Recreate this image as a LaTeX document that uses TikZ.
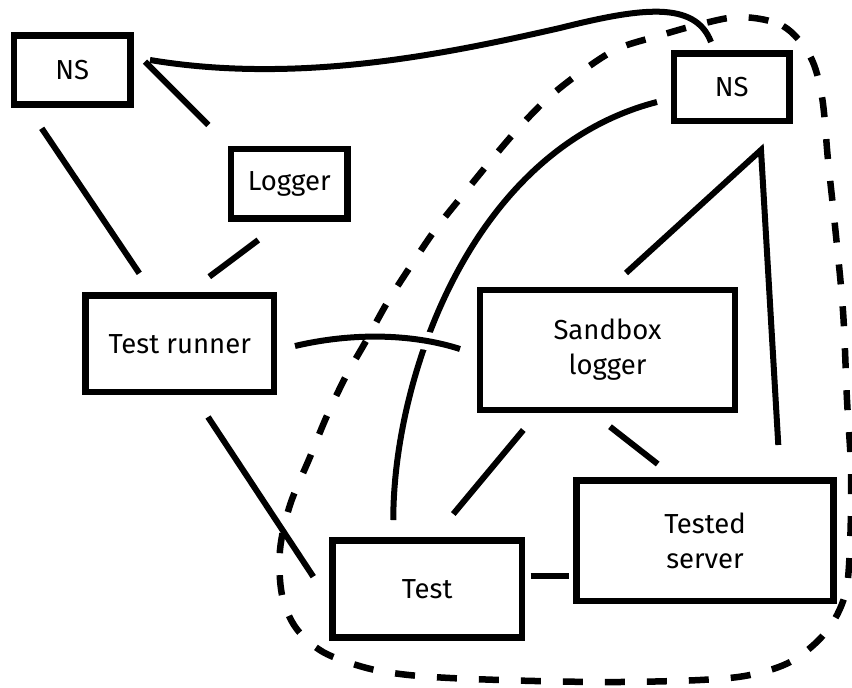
\documentclass[tikz,border=0pt]{standalone}
\usepackage{fontspec}
\IfFontExistsTF{Fira Sans Book}{\setmainfont{Fira Sans Book}}{\setmainfont{Fira Sans}}
\begin{document}
\begin{tikzpicture}[x=1pt,y=-1pt,
  box/.style={draw, line width=6.5pt, rectangle, inner sep=0pt, align=center,
    font=\fontsize{27.5}{35}\selectfont},
  conn/.style={line width=6pt},
  halo/.style={preaction={draw=white, line width=18pt}},
  boundary/.style={line width=6.5pt, dash pattern=on 20pt off 22pt}]
\useasboundingbox (0,0) rectangle (852,688);
\fill[white] (0,0) rectangle (852,688);

% nodes
\node[box, minimum width=116.5pt, minimum height=69pt] (nsl) at (72.2,70) {NS};
\node[box, minimum width=116.5pt, minimum height=69.2pt] (logger) at (289.2,183.8) {Logger};
\node[box, minimum width=188.5pt, minimum height=96.2pt] (runner) at (179.8,343.7) {Test runner};
\node[box, minimum width=115.2pt, minimum height=67.5pt] (nsr) at (731.8,87) {NS};
\node[box, minimum width=255pt, minimum height=120pt] (sandbox) at (607.5,350) {Sandbox\\logger};
\node[box, minimum width=189.2pt, minimum height=96.9pt] (test) at (427.2,589) {Test};
\node[box, minimum width=257pt, minimum height=120.5pt] (tested) at (705,540.8) {Tested\\server};

% connector end points
\coordinate (nslLog) at (145,61.7);   \coordinate (logNsl) at (208.3,125);
\coordinate (nslRun) at (41.7,128.3); \coordinate (runNsl) at (139.3,273.3);
\coordinate (logRun) at (258.3,240);  \coordinate (runLog) at (209.3,276.7);
\coordinate (runTest) at (208,417);   \coordinate (testRun) at (313.3,576.7);
\coordinate (testSbx) at (453.3,514); \coordinate (sbxTest) at (523.3,430);
\coordinate (sbxTsd) at (610,426.7);  \coordinate (tsdSbx) at (657.7,464);
\coordinate (testTsd) at (530.7,576); \coordinate (tsdTest) at (569.3,576);
\coordinate (nsrApex) at (761,150);
\coordinate (sbxNsr) at (626,273);    \coordinate (tsdNsr) at (778.3,445);
\coordinate (runSbx) at (295,346);    \coordinate (sbxRun) at (460,349);
\coordinate (testNsr) at (393.3,520); \coordinate (nsrTest) at (657,102);
\coordinate (nslNsr) at (150,60);     \coordinate (nsrNsl) at (711,42);

% connectors
\draw[conn] (testNsr) .. controls (393,380) and (470,150) .. (nsrTest);
\draw[conn, halo] (runSbx) .. controls (350,333) and (410,333) .. (sbxRun);
\draw[conn] (nslLog) -- (logNsl);
\draw[conn] (nslRun) -- (runNsl);
\draw[conn] (logRun) -- (runLog);
\draw[conn] (runTest) -- (testRun);
\draw[conn] (testSbx) -- (sbxTest);
\draw[conn] (sbxTsd) -- (tsdSbx);
\draw[conn] (testTsd) -- (tsdTest);
\draw[conn, miter limit=20] (sbxNsr) -- (nsrApex) -- (tsdNsr);
\draw[conn] (nslNsr) .. controls (300,85) and (450,53) .. (560,28)
  .. controls (640,8) and (695,0) .. (nsrNsl);

% sandbox boundary
\draw[boundary] plot[smooth cycle, tension=0.55] coordinates {
 (741,17) (783,26) (810,56) (822,97) (828,160) (835,226) (843,311)
 (847,400) (851,470) (850,545) (845,595) (826,632) (792,661) (750,675)
 (700,680) (620,682) (535,681) (450,678) (400,674) (363,667) (323,652)
 (296,628) (282,595) (280,550) (290,505) (310,457) (326,418) (345,378)
 (366,341) (387,303) (410,267) (435,230) (462,196) (488,164) (516,131)
 (547,99) (581,72) (617,49) (658,36) (701,24)};
\end{tikzpicture}
\end{document}
